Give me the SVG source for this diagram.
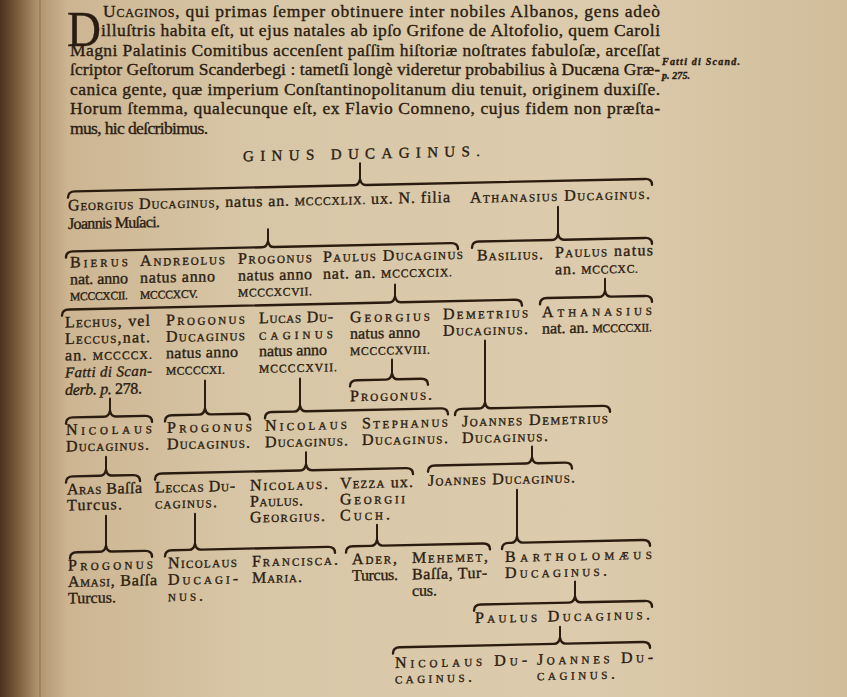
<svg xmlns="http://www.w3.org/2000/svg" width="847" height="697" viewBox="0 0 847 697">
<defs>
<linearGradient id="paper" x1="0" y1="0" x2="1" y2="0">
<stop offset="0" stop-color="#4a3220"/>
<stop offset="0.02" stop-color="#7a5a3a"/>
<stop offset="0.045" stop-color="#b09470"/>
<stop offset="0.08" stop-color="#cdb592"/>
<stop offset="0.3" stop-color="#d8c7a7"/>
<stop offset="0.7" stop-color="#dccbac"/>
<stop offset="1" stop-color="#d1bd9a"/>
</linearGradient>
<style>
.t{font-family:"Liberation Serif","Times New Roman",serif;fill:#2a1c10;stroke:#2a1c10;stroke-width:0.35}
.p{font-size:17.5px}
.k{font-size:16px}
.sc{font-variant:small-caps}
.n{font-size:11.5px}
.i{font-style:italic}
.br{fill:none;stroke:#2a1c10;stroke-width:2.4;stroke-linecap:round;stroke-linejoin:round}
.st{stroke:#2a1c10;stroke-width:2;stroke-linecap:round}
</style>
</defs>
<rect width="847" height="697" fill="url(#paper)"/>
<line x1="40" y1="0" x2="40" y2="697" stroke="#8a6c4a" stroke-width="1.5" opacity="0.6"/>
<g id="text-intro" class="t">
<text x="67" y="46" font-size="50" textLength="34" lengthAdjust="spacingAndGlyphs">D</text>
<text class="p" x="103" y="17" textLength="557"><tspan class="sc">Ucaginos</tspan>, qui primas ſemper obtinuere inter nobiles Albanos, gens adeò</text>
<text class="p" x="101" y="36" textLength="559">illuſtris habita eſt, ut ejus natales ab ipſo Grifone de Altofolio, quem Caroli</text>
<text class="p" x="70" y="55.5" textLength="590">Magni Palatinis Comitibus accenſent paſſim hiſtoriæ noſtrates fabuloſæ, arceſſat</text>
<text class="p" x="70" y="75" textLength="590">ſcriptor Geſtorum Scanderbegi : tametſi longè videretur probabilius à Ducæna Græ-</text>
<text class="p" x="70" y="94.5" textLength="590">canica gente, quæ imperium Conſtantinopolitanum diu tenuit, originem duxiſſe.</text>
<text class="p" x="70" y="114" textLength="590">Horum ſtemma, qualecunque eſt, ex Flavio Comneno, cujus fidem non præſta-</text>
<text class="p" x="70" y="133.5" textLength="138">mus, hic deſcribimus.</text>
<text class="i" x="662" y="65" font-size="10" font-weight="bold" textLength="78">Fatti di Scand.</text>
<text class="i" x="662" y="79" font-size="10" font-weight="bold" textLength="28">p. 275.</text>
</g>
<g transform="skewY(-1.25)">
<g id="title" class="t"><text x="243" y="166.5" font-size="15" textLength="237">GINUS DUCAGINUS.</text></g>

<g id="connectors">
<path class="br" d="M68,199 Q68,193 75,193 H354 Q359,193 360,187 Q361,193 366,193 H645 Q652,193 652,199"/>
<path class="br" d="M472,258 Q472,252 479,252 H552 Q557,252 558,246 Q559,252 564,252 H645 Q652,252 652,258"/>
<path class="br" d="M66,259 Q66,253 73,253 H262 Q267,253 268,247 Q269,253 274,253 H451 Q458,253 458,259"/>
<path class="br" d="M62,317 Q62,311 69,311 H389 Q394,311 395,305 Q396,311 401,311 H515 Q522,311 522,317"/>
<path class="br" d="M540,316 Q540,310 547,310 H599 Q604,310 605,304 Q606,310 611,310 H645 Q652,310 652,316"/>
<path class="br" d="M350,394 Q350,388 357,388 H386 Q391,388 392,382 Q393,388 398,388 H421 Q428,388 428,394"/>
<path class="br" d="M455,425 Q455,419 462,419 H479 Q484,419 485,413 Q486,419 491,419 H603 Q610,419 610,425"/>
<path class="br" d="M265,424 Q265,418 272,418 H294 Q299,418 300,412 Q301,418 306,418 H441 Q448,418 448,424"/>
<path class="br" d="M165,425 Q165,419 172,419 H199 Q204,419 205,413 Q206,419 211,419 H243 Q250,419 250,425"/>
<path class="br" d="M66,425 Q66,419 73,419 H104 Q109,419 110,413 Q111,419 116,419 H145 Q152,419 152,425"/>
<path class="br" d="M66,484 Q66,478 73,478 H100 Q105,478 106,472 Q107,478 112,478 H133 Q140,478 140,484"/>
<path class="br" d="M155,483 Q155,477 162,477 H300 Q305,477 306,471 Q307,477 312,477 H406 Q413,477 413,483"/>
<path class="br" d="M428,481 Q428,475 435,475 H526 Q531,475 532,469 Q533,475 538,475 H565 Q572,475 572,481"/>
<path class="br" d="M70,560 Q70,554 77,554 H100 Q105,554 106,548 Q107,554 112,554 H145 Q152,554 152,560"/>
<path class="br" d="M165,560 Q165,554 172,554 H189 Q194,554 195,548 Q196,554 201,554 H328 Q335,554 335,560"/>
<path class="br" d="M346,560 Q346,554 353,554 H371 Q376,554 377,548 Q378,554 383,554 H483 Q490,554 490,560"/>
<path class="br" d="M502,560 Q502,554 509,554 H511 Q516,554 517,548 Q518,554 523,554 H643 Q650,554 650,560"/>
<path class="br" d="M474,621 Q474,615 481,615 H569 Q574,615 575,609 Q576,615 581,615 H645 Q652,615 652,621"/>
<path class="br" d="M393,662 Q393,656 400,656 H554 Q559,656 560,650 Q561,656 566,656 H643 Q650,656 650,662"/>
<line class="st" x1="360" y1="171" x2="360" y2="187"/>
<line class="st" x1="268" y1="235" x2="268" y2="247"/>
<line class="st" x1="558" y1="219" x2="558" y2="246"/>
<line class="st" x1="395" y1="293" x2="395" y2="305"/>
<line class="st" x1="605" y1="292" x2="605" y2="304"/>
<line class="st" x1="110" y1="401" x2="110" y2="413"/>
<line class="st" x1="205" y1="385" x2="205" y2="413"/>
<line class="st" x1="300" y1="385" x2="300" y2="412"/>
<line class="st" x1="392" y1="368" x2="392" y2="382"/>
<line class="st" x1="485" y1="351" x2="485" y2="413"/>
<line class="st" x1="106" y1="459" x2="106" y2="472"/>
<line class="st" x1="306" y1="459" x2="306" y2="471"/>
<line class="st" x1="532" y1="458" x2="532" y2="469"/>
<line class="st" x1="106" y1="518" x2="106" y2="548"/>
<line class="st" x1="195" y1="518" x2="195" y2="548"/>
<line class="st" x1="377" y1="533" x2="377" y2="548"/>
<line class="st" x1="517" y1="501" x2="517" y2="548"/>
<line class="st" x1="575" y1="594" x2="575" y2="609"/>
<line class="st" x1="560" y1="639" x2="560" y2="650"/>
</g>

<g id="georgius" class="t k">
<text x="68" y="212" textLength="382"><tspan class="sc">Georgius Ducaginus</tspan>, natus an. <tspan class="n">MCCCXLIX.</tspan> ux. N. filia</text>
<text x="68" y="230.5" textLength="92">Joannis Muſaci.</text>
</g>
<g id="athanasius1" class="t k"><text class="sc" x="470" y="213" textLength="180">Athanasius Ducaginus.</text></g>

<g id="bierus" class="t k">
<text class="sc" x="70" y="269" textLength="58">Bierus</text>
<text x="70" y="286" textLength="58">nat. anno</text>
<text class="n" x="70" y="302" textLength="58">MCCCXCII.</text>
</g>
<g id="andreolus" class="t k">
<text class="sc" x="140" y="269" textLength="85">Andreolus</text>
<text x="140" y="286" textLength="75">natus anno</text>
<text class="n" x="140" y="302" textLength="58">MCCCXCV.</text>
</g>
<g id="progonus1" class="t k">
<text class="sc" x="238" y="269" textLength="74">Progonus</text>
<text x="238" y="286" textLength="74">natus anno</text>
<text class="n" x="238" y="302" textLength="74">MCCCXCVII.</text>
</g>
<g id="paulus1" class="t k">
<text class="sc" x="323" y="269" textLength="140">Paulus Ducaginus</text>
<text x="323" y="286" textLength="129">nat. an. <tspan class="n">MCCCXCIX.</tspan></text>
</g>
<g id="basilius" class="t k"><text class="sc" x="477" y="271" textLength="66">Basilius.</text></g>
<g id="paulus2" class="t k">
<text x="555" y="269.5" textLength="98"><tspan class="sc">Paulus</tspan> natus</text>
<text x="555" y="286.5" textLength="83">an. <tspan class="n">MCCCXC.</tspan></text>
</g>

<g id="lechus" class="t k">
<text x="65" y="329" textLength="85"><tspan class="sc">Lechus</tspan>, vel</text>
<text x="65" y="345.5" textLength="85"><tspan class="sc">Leccus</tspan>,nat.</text>
<text x="65" y="362" textLength="87">an. <tspan class="n">MCCCCX.</tspan></text>
<text class="i" x="65" y="379" font-size="15" textLength="87">Fatti di Scan-</text>
<text x="65" y="396.5" textLength="77"><tspan class="i">derb. p.</tspan> 278.</text>
</g>
<g id="progonus2" class="t k">
<text class="sc" x="166" y="329" textLength="79">Progonus</text>
<text class="sc" x="166" y="345.5" textLength="79">Ducaginus</text>
<text x="166" y="362" textLength="72">natus anno</text>
<text class="n" x="166" y="378.5" textLength="59">MCCCCXI.</text>
</g>
<g id="lucas" class="t k">
<text class="sc" x="259" y="329" textLength="74">Lucas Du-</text>
<text class="sc" x="259" y="345.5" textLength="74">caginus</text>
<text x="259" y="362" textLength="68">natus anno</text>
<text class="n" x="259" y="378.5" textLength="78">MCCCCXVII.</text>
</g>
<g id="georgius2" class="t k">
<text class="sc" x="350" y="330" textLength="80">Georgius</text>
<text x="350" y="346.5" textLength="70">natus anno</text>
<text class="n" x="350" y="363" textLength="80">MCCCCXVIII.</text>
</g>
<g id="demetrius" class="t k">
<text class="sc" x="443" y="329" textLength="85">Demetrius</text>
<text class="sc" x="443" y="345.5" textLength="85">Ducaginus.</text>
</g>
<g id="athanasius2" class="t k">
<text class="sc" x="542" y="329" textLength="110">Athanasius</text>
<text x="542" y="345.5" textLength="110">nat. an. <tspan class="n">MCCCCXII.</tspan></text>
</g>
<g id="progonus3" class="t k"><text class="sc" x="350" y="409" textLength="82">Progonus.</text></g>

<g id="nicolaus1" class="t k">
<text class="sc" x="66" y="436.5" textLength="86">Nicolaus</text>
<text class="sc" x="66" y="453" textLength="83">Ducaginus.</text>
</g>
<g id="progonus4" class="t k">
<text class="sc" x="167" y="436.5" textLength="85">Progonus</text>
<text class="sc" x="167" y="453" textLength="83">Ducaginus.</text>
</g>
<g id="nicolaus2" class="t k">
<text class="sc" x="265" y="436.5" textLength="82">Nicolaus</text>
<text class="sc" x="265" y="453" textLength="83">Ducaginus.</text>
</g>
<g id="stephanus" class="t k">
<text class="sc" x="362" y="436.5" textLength="86">Stephanus</text>
<text class="sc" x="362" y="453" textLength="86">Ducaginus.</text>
</g>
<g id="joannes-demetrius" class="t k">
<text class="sc" x="462" y="436.5" textLength="146">Joannes Demetrius</text>
<text class="sc" x="462" y="453" textLength="86">Ducaginus.</text>
</g>

<g id="aras" class="t k">
<text x="67" y="496" textLength="75"><tspan class="sc">Aras</tspan> Baſſa</text>
<text x="67" y="512" textLength="55">Turcus.</text>
</g>
<g id="leccas" class="t k">
<text class="sc" x="155" y="496" textLength="80">Leccas Du-</text>
<text class="sc" x="155" y="512" textLength="62">caginus.</text>
</g>
<g id="nicolaus-paulus-georgius" class="t k">
<text class="sc" x="250" y="496" textLength="78">Nicolaus.</text>
<text class="sc" x="250" y="512" textLength="53">Paulus.</text>
<text class="sc" x="250" y="528" textLength="75">Georgius.</text>
</g>
<g id="vezza" class="t k">
<text x="340" y="496" textLength="73"><tspan class="sc">Vezza</tspan> ux.</text>
<text class="sc" x="340" y="512" textLength="65">Georgii</text>
<text class="sc" x="340" y="528" textLength="50">Cuch.</text>
</g>
<g id="joannes1" class="t k"><text class="sc" x="428" y="495" textLength="147">Joannes Ducaginus.</text></g>

<g id="progonus5" class="t k">
<text class="sc" x="68" y="572" textLength="85">Progonus</text>
<text x="68" y="588.5" textLength="89"><tspan class="sc">Amasi</tspan>, Baſſa</text>
<text x="68" y="605" textLength="48">Turcus.</text>
</g>
<g id="nicolaus3" class="t k">
<text class="sc" x="168" y="572" textLength="69">Nicolaus</text>
<text class="sc" x="168" y="588.5" textLength="70">Ducagi-</text>
<text class="sc" x="168" y="605" textLength="35">nus.</text>
</g>
<g id="francisca" class="t k">
<text class="sc" x="252" y="572" textLength="86">Francisca.</text>
<text class="sc" x="252" y="588.5" textLength="50">Maria.</text>
</g>
<g id="ader" class="t k">
<text class="sc" x="352" y="572" textLength="45">Ader,</text>
<text x="352" y="588.5" textLength="46">Turcus.</text>
</g>
<g id="mehemet" class="t k">
<text class="sc" x="412" y="572" textLength="76">Mehemet,</text>
<text x="412" y="588.5" textLength="75">Baſſa, Tur-</text>
<text x="412" y="605" textLength="25">cus.</text>
</g>
<g id="bartholomaeus" class="t k">
<text class="sc" x="505" y="573" textLength="147">Bartholomæus</text>
<text class="sc" x="505" y="589" textLength="102">Ducaginus.</text>
</g>
<g id="paulus3" class="t k"><text class="sc" x="475" y="633.5" textLength="175">Paulus Ducaginus.</text></g>
<g id="nicolaus4" class="t k">
<text class="sc" x="395" y="676.5" textLength="132">Nicolaus Du-</text>
<text class="sc" x="395" y="692" textLength="77">caginus.</text>
</g>
<g id="joannes2" class="t k">
<text class="sc" x="537" y="676.5" textLength="116">Joannes Du-</text>
<text class="sc" x="537" y="692" textLength="78">caginus.</text>
</g>
</g>
</svg>
